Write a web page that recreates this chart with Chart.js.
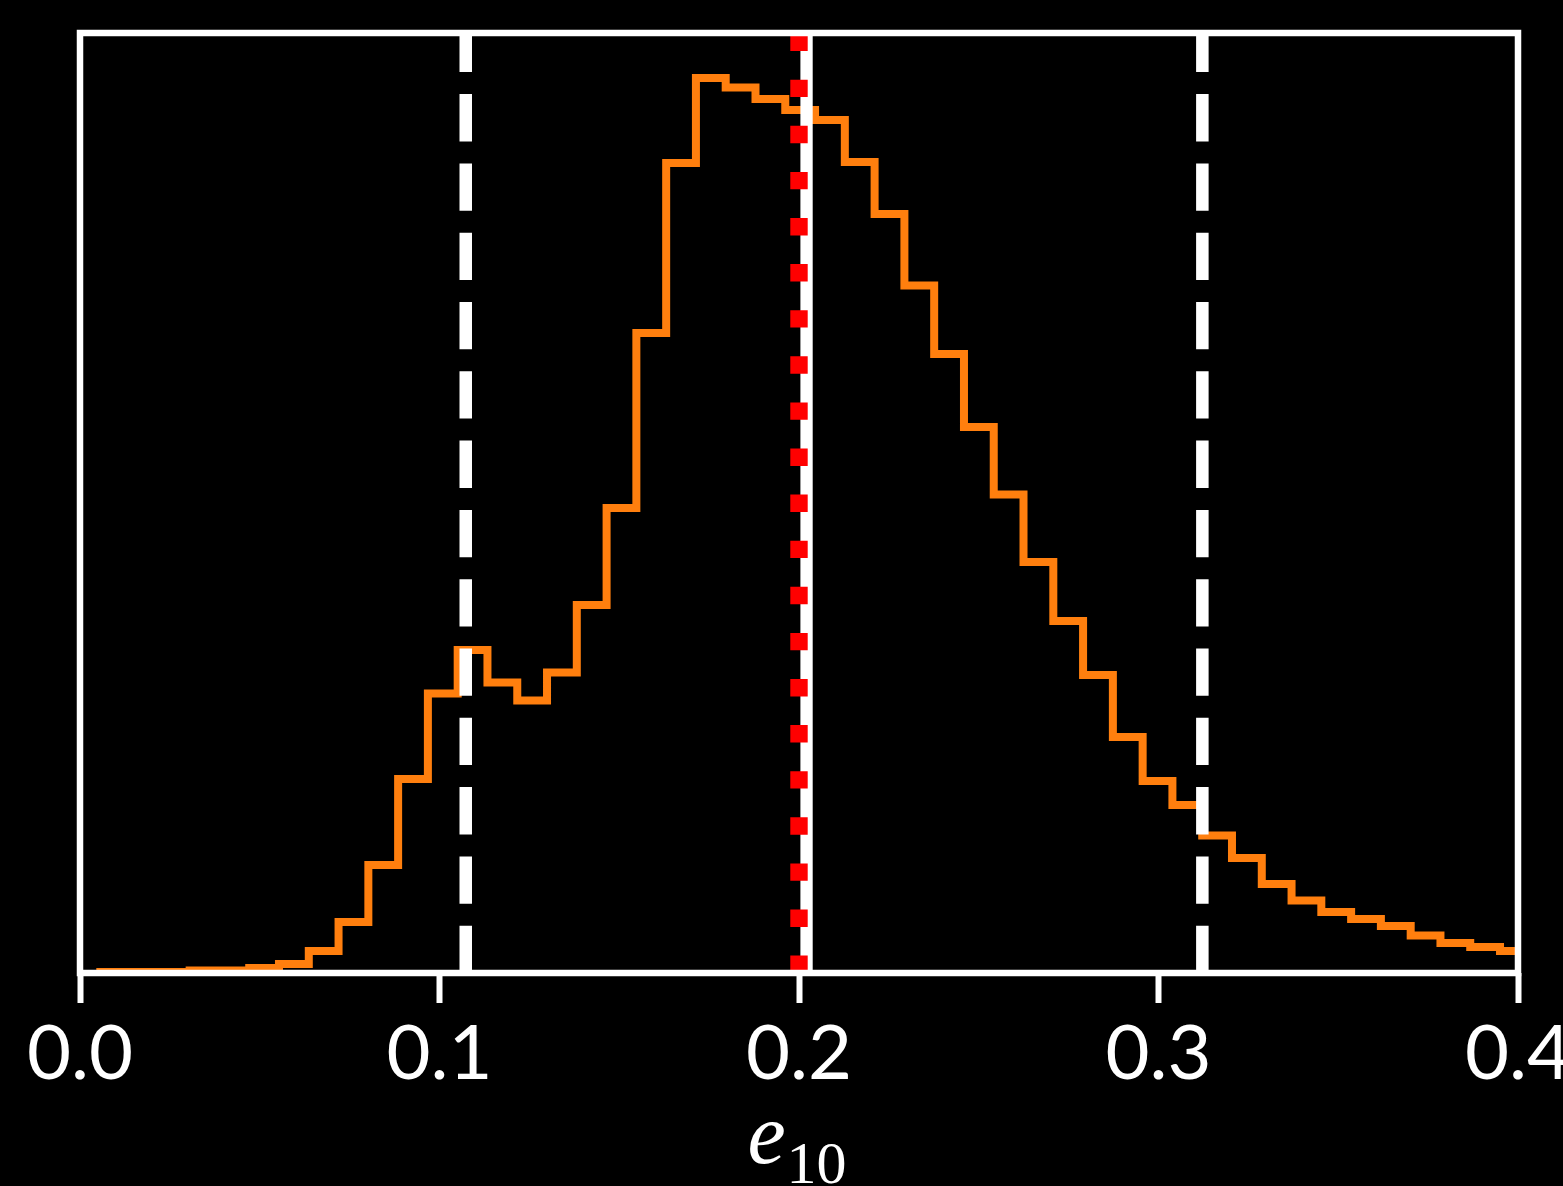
<!DOCTYPE html>
<html>
<head>
<meta charset="utf-8">
<script src="https://cdn.jsdelivr.net/npm/chart.js@4.4.1/dist/chart.umd.min.js"></script>
<style>
html,body{margin:0;padding:0;background:#000;overflow:hidden;width:1563px;height:1186px;}
#wrap{position:absolute;left:0;top:0;width:1600px;height:1186px;}
canvas{display:block;}
</style>
</head>
<body>
<div id="wrap"><canvas id="c" width="1600" height="1186"></canvas></div>
<script>
// ---- data ----
const binEdges = [0.00565,0.01393,0.02222,0.03050,0.03879,0.04707,0.05535,0.06364,0.07192,0.08021,
  0.08849,0.09677,0.10506,0.11334,0.12163,0.12991,0.13819,0.14648,0.15476,0.16305,
  0.17133,0.17961,0.18790,0.19618,0.20447,0.21275,0.22103,0.22932,0.23760,0.24589,
  0.25417,0.26245,0.27074,0.27902,0.28731,0.29559,0.30387,0.31216,0.32044,0.32873,
  0.33701,0.34529,0.35358,0.36186,0.37015,0.37843,0.38671,0.39500,0.40328];
const binCounts = [1,1,1,2.5,2.5,5,9,22,51,108,
  194,279.5,323,290.5,272.5,300.5,368,465,640,810,
  895,885.5,874,863,853,811,759,687.5,619,546,
  478.5,411,352,298,236,192,168,137.5,115,89,
  72.5,61,54,47,37.5,30,26,22];
const tickValues = [0.0,0.1,0.2,0.3,0.4];
const tickLabels = ['0.0','0.1','0.2','0.3','0.4'];
const dashedLines = [0.1073,0.3122];
const solidLine = 0.2021;
const trueValue = 0.2;
const xRange = [0,0.4];
const yTop = 940;
const xTitle = 'e';
const xTitleSub = '10';

// ---- build datasets ----
const stepData = [{x: binEdges[0], y: 0}];
binCounts.forEach((c, i) => stepData.push({x: binEdges[i], y: c}));
stepData.push({x: binEdges[binEdges.length - 1], y: 0});

const vline = v => [{x: v, y: 0}, {x: v, y: yTop}];

const datasets = [
  {label:'truth', data: vline(trueValue), borderColor:'#ff0000', borderWidth:17.4,
   borderDash:[17.4,28.7], borderCapStyle:'butt', pointRadius:0, order:0},
  {label:'median', data: vline(solidLine), borderColor:'#ffffff', borderWidth:12.3,
   borderCapStyle:'butt', pointRadius:0, order:1},
  ...dashedLines.map((v, i) => ({label:'ci'+i, data: vline(v), borderColor:'#ffffff', borderWidth:12.5,
   borderDash:[47.3,22], borderCapStyle:'butt', pointRadius:0, order:2})),
  {label:'hist', data: stepData, borderColor:'#ff7f0e', borderWidth:8, stepped:'before',
   borderJoinStyle:'miter', borderCapStyle:'butt', pointRadius:0, fill:false, order:3}
];

const framePlugin = {
  id:'frame',
  afterDatasetsDraw(chart){
    const {ctx, chartArea:a} = chart;
    ctx.save();
    ctx.strokeStyle = '#ffffff';
    ctx.lineWidth = 6.5;
    ctx.strokeRect(a.left, a.top, a.right - a.left, a.bottom - a.top);
    ctx.restore();
  }
};

const titlePlugin = {
  id:'xtitle',
  afterDraw(chart){
    const {ctx, chartArea:a} = chart;
    ctx.save();
    ctx.fillStyle = '#ffffff';
    ctx.textBaseline = 'alphabetic';
    ctx.textAlign = 'left';
    const fMain = 'italic 86px "Liberation Serif"';
    const fSub = '60px "Liberation Serif"';
    ctx.font = fMain; const we = ctx.measureText(xTitle).width;
    ctx.font = fSub; const ws = ctx.measureText(xTitleSub).width;
    const gap = 1;
    const total = we + gap + ws;
    const cx = (a.left + a.right) / 2 - 2;
    const x0 = cx - total / 2;
    ctx.font = fMain; ctx.fillText(xTitle, x0, 1163);
    ctx.font = fSub; ctx.fillText(xTitleSub, x0 + we + gap, 1183);
    ctx.restore();
  }
};

new Chart(document.getElementById('c'), {
  type:'line',
  data:{datasets},
  plugins:[framePlugin, titlePlugin],
  options:{
    responsive:false,
    animation:false,
    parsing:true,
    layout:{padding:{left:80, right:82, top:33, bottom:0}},
    plugins:{legend:{display:false}, tooltip:{enabled:false}},
    elements:{line:{tension:0}},
    scales:{
      x:{
        type:'linear', min:xRange[0], max:xRange[1],
        afterBuildTicks: s => { s.ticks = tickValues.map(v => ({value:v})); },
        afterFit: s => { s.height = 213; },
        border:{display:false},
        grid:{display:true, drawOnChartArea:false, drawTicks:true, tickLength:30,
              tickWidth:6, tickColor:'#ffffff', color:'#ffffff'},
        ticks:{color:'#ffffff', font:{family:'Lato', size:76}, padding:6,
               maxRotation:0, autoSkip:false, callback:(v, i) => tickLabels[i]}
      },
      y:{display:false, min:0, max:yTop}
    }
  }
});
</script>
</body>
</html>
